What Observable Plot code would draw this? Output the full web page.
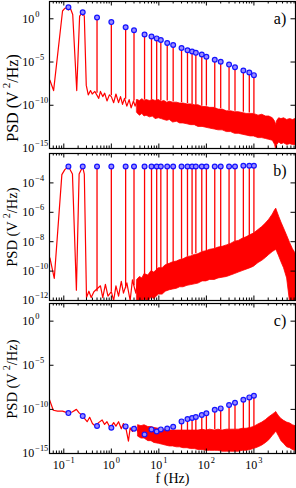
<!DOCTYPE html>
<html><head><meta charset="utf-8">
<script src="https://cdn.jsdelivr.net/npm/d3@7"></script>
<script src="https://cdn.jsdelivr.net/npm/@observablehq/plot@0.6"></script>
<style>
html,body{margin:0;padding:0;background:#fff;}
#chart{position:relative;width:296px;height:488px;}
</style></head><body><div id="chart"></div>
<script>
// ---------- data (PSD values stored as log10 exponents) ----------
const xDomain = [0.05, 7500];
const xMajor = [0.1, 1, 10, 100, 1000];
const minorMult = [2, 3, 4, 5, 6, 7, 8, 9];
const decades = [0.01, 0.1, 1, 10, 100, 1000];

const peakF = [0.125,0.25,0.5,1,2,3,5,7,9,11,15,20,30,40,50,60,80,100,150,200,300,400,600,800,1000];

// panel a)
const yTicksA = [0, -5, -10, -15];
const peakA = [1.33,0.76,0.15,-0.38,-0.98,-1.33,-1.82,-2.05,-2.27,-2.46,-2.80,-3.03,-3.37,-3.64,-3.79,-3.94,-4.13,-4.39,-4.73,-4.96,-5.30,-5.61,-5.98,-6.21,-6.52];
const baseA = [0.9,0.3,-8.6,-8.9,-9.3,-9.5,-9.4,-9.4,-9.5,-9.5,-9.5,-9.6,-9.7,-9.8,-9.9,-10.0,-10.1,-10.1,-10.3,-10.4,-10.6,-10.7,-10.8,-10.9,-11.0];
const lineAf = [0.051,0.061,0.094,0.105,0.125,0.14,0.154,0.187,0.215,0.249,0.27,0.297,0.327,0.365,0.396,0.45,0.543,0.59,0.66,0.725,0.81,0.91,1.0,1.12,1.25,1.42,1.56,1.72,1.89,2.12,2.37,2.61,2.92,3.16,3.5];
const lineAv = [-7.1,-8.3,0.9,1.2,1.33,1.1,0.5,-8.3,0.3,0.76,0.3,-7.7,-8.8,-8.3,-8.7,-8.4,-9.2,-8.4,-9.0,-8.6,-9.5,-8.8,-9.0,-9.7,-8.7,-9.7,-9.0,-9.9,-9.2,-10.1,-9.35,-10.3,-9.5,-10.1,-9.4];
const bandAf  = [3.5,4,4.5,5,5.5,6.5,7.5,8.5,10,11.5,13,15,17,20,24,28,33,40,48,57,68,83,100,120,150,180,220,270,330,400,480,580,700,850,1000,1250,1500,1800,2100,2500,2800,2950,3100,3400,3800,4300,5000,5800,6600,7500];
const bandAlo = [-10.9,-11.2,-11.0,-11.3,-11.2,-11.4,-11.3,-11.6,-11.5,-11.6,-11.7,-11.8,-11.7,-12.0,-11.9,-12.1,-12.1,-12.2,-12.3,-12.3,-12.5,-12.5,-12.6,-12.7,-12.8,-12.9,-12.9,-13.1,-13.1,-13.3,-13.3,-13.4,-13.5,-13.6,-13.6,-13.8,-13.8,-13.9,-14.0,-14.1,-14.6,-15.2,-14.6,-14.3,-14.5,-14.4,-14.6,-14.5,-14.6,-14.6];
const bandAhi = [-9.4,-9.5,-9.3,-9.5,-9.4,-9.5,-9.4,-9.5,-9.4,-9.6,-9.5,-9.7,-9.6,-9.7,-9.7,-9.8,-9.8,-9.9,-9.9,-10.0,-10.0,-10.2,-10.2,-10.3,-10.3,-10.5,-10.5,-10.7,-10.7,-10.8,-10.8,-10.9,-11.0,-11.0,-11.0,-11.2,-11.1,-11.3,-11.3,-11.5,-11.9,-12.3,-11.8,-11.5,-11.6,-11.5,-11.7,-11.6,-11.7,-11.6];

// panel b)
const yTicksB = [-4, -6, -8, -10, -12];
const peakB = [-2.88,-2.88,-2.88,-2.88,-2.88,-2.88,-2.88,-2.88,-2.88,-2.88,-2.88,-2.88,-2.88,-2.88,-2.88,-2.88,-2.88,-2.88,-2.88,-2.88,-2.88,-2.88,-2.83,-2.83,-2.83];
const baseB = [-3.0,-3.0,-11.4,-11.4,-11.2,-11.0,-10.3,-10.1,-10.0,-9.8,-9.6,-9.4,-9.2,-9.0,-8.9,-8.8,-8.7,-8.7,-8.5,-8.4,-8.2,-8.0,-7.9,-7.7,-7.6];
const lineBf = [0.051,0.063,0.091,0.105,0.125,0.152,0.184,0.21,0.249,0.27,0.30,0.337,0.377,0.43,0.59,0.66,0.75,0.85,1.0,1.12,1.25,1.42,1.62,1.8,2.12,2.49,2.78,3.27,3.6];
const lineBv = [-9.1,-10.5,-3.44,-3.1,-2.88,-3.4,-11.3,-3.4,-2.9,-3.4,-11.8,-11.37,-11.8,-11.4,-11.0,-11.8,-10.9,-11.7,-11.4,-12.0,-11.0,-11.7,-10.7,-11.5,-10.8,-12.0,-10.6,-11.5,-10.6];
const bandBf  = [3.5,4,4.5,5,6,7,8,10,12,14,17,20,24,28,33,40,48,57,68,83,100,120,150,180,220,270,330,400,480,580,700,850,1000,1250,1500,1800,2100,2500,2800,2950,3100,3400,3800,4300,5000,5800,6600,7500];
const bandBlo = [-12.2,-12.0,-12.2,-11.9,-12.1,-11.8,-11.9,-11.6,-11.6,-11.4,-11.3,-11.25,-11.2,-11.1,-11.1,-11.0,-10.95,-10.9,-10.85,-10.7,-10.7,-10.6,-10.6,-10.5,-10.45,-10.4,-10.3,-10.2,-10.1,-10.0,-9.9,-9.8,-9.7,-9.45,-9.3,-9.1,-8.9,-8.7,-8.6,-8.55,-8.7,-9.0,-9.4,-9.8,-10.5,-12.2,-12.2,-12.2];
const bandBhi = [-10.6,-10.4,-10.5,-10.2,-10.3,-10.0,-10.1,-9.8,-9.8,-9.6,-9.5,-9.4,-9.35,-9.25,-9.2,-9.05,-9.0,-8.9,-8.85,-8.7,-8.65,-8.55,-8.5,-8.4,-8.35,-8.25,-8.15,-8.0,-7.95,-7.8,-7.7,-7.55,-7.45,-7.2,-7.0,-6.75,-6.5,-6.15,-5.85,-5.75,-5.95,-6.3,-6.7,-7.1,-7.6,-8.1,-8.5,-8.8];

// panel c)
const yTicksC = [0, -5, -10, -15];
const peakC = [-10.42,-10.76,-11.89,-12.08,-11.93,-12.20,-12.84,-12.27,-12.5,-12.27,-12.16,-11.97,-11.36,-11.10,-10.98,-10.87,-10.64,-10.45,-10.04,-9.89,-9.51,-9.24,-8.90,-8.64,-8.45];
const baseC = [-10.42,-10.76,-11.89,-12.08,-11.93,-12.20,-12.84,-12.27,-12.5,-12.27,-12.16,-11.97,-12.4,-12.4,-12.4,-12.4,-12.4,-12.4,-12.3,-12.3,-12.3,-12.3,-12.3,-12.2,-12.2];
const lineCf = [0.05,0.06,0.074,0.094,0.12,0.15,0.184,0.21,0.245,0.28,0.31,0.35,0.40,0.46,0.54,0.64,0.72,0.81,0.95,1.12,1.25,1.42,1.62,1.8,2.02,2.29,2.49,2.78,3.16,3.7];
const lineCv = [-8.9,-10.1,-10.2,-10.2,-10.4,-10.3,-10.0,-10.4,-10.7,-11.1,-11.4,-10.9,-11.6,-11.9,-11.5,-11.2,-11.7,-11.4,-12.1,-11.5,-11.9,-11.4,-12.2,-11.6,-12.1,-13.6,-12.1,-12.5,-11.9,-12.6];
const bandCf  = [3.7,4.3,5,6,7,8,10,12,14,17,20,24,28,33,40,48,57,68,83,100,120,150,180,220,270,330,400,480,580,700,850,1000,1250,1500,1800,2100,2500,2800,2950,3100,3400,3800,4300,5000,5800,6600,7500];
const bandClo = [-13.1,-13.3,-13.3,-13.6,-13.6,-13.8,-13.9,-14.0,-14.1,-14.2,-14.2,-14.3,-14.3,-14.4,-14.4,-14.5,-14.5,-14.6,-14.6,-14.7,-14.7,-14.7,-14.7,-14.8,-14.8,-14.8,-14.8,-14.8,-14.7,-14.7,-14.6,-14.5,-14.3,-14.1,-13.8,-13.5,-13.0,-12.7,-12.5,-12.7,-13.1,-13.6,-13.9,-14.3,-14.4,-14.6,-14.7];
const bandChi = [-11.8,-11.9,-11.8,-12.0,-12.0,-12.1,-12.2,-12.3,-12.3,-12.4,-12.4,-12.4,-12.4,-12.4,-12.4,-12.4,-12.4,-12.4,-12.3,-12.4,-12.3,-12.4,-12.3,-12.4,-12.3,-12.3,-12.3,-12.3,-12.2,-12.2,-12.1,-12.0,-11.7,-11.5,-11.2,-10.9,-10.6,-10.4,-10.3,-10.5,-10.8,-11.1,-11.3,-11.5,-11.6,-11.8,-11.9];

const panelTags = ["a)", "b)", "c)"];
const yLabel = "PSD (V^2/Hz)";
const xLabel = "f (Hz)";

// ---------- helpers ----------
const FONT = '"Liberation Serif","Times New Roman",Times,serif';
const xMinor = decades.flatMap(d => minorMult.map(m => d * m)).filter(v => v > xDomain[0] && v < xDomain[1]);
const P = v => Math.pow(10, v);
const pts = (f, v) => f.map((x, i) => ({f: x, v: P(v[i])}));
const bandPts = (f, lo, hi) => f.map((x, i) => ({f: x, lo: P(lo[i]), hi: P(hi[i])}));
const peakPts = (v, b) => peakF.map((x, i) => ({f: x, v: P(v[i]), base: P(b[i])}));

function panel(cfg) {
  const {top, height, mt, mb, yDomain, yTickExp, line, band, peaks, tag, labelSize, showX} = cfg;
  const W = 296, ml = 49, mr = 1;
  const ih = height - mt - mb, iw = W - ml - mr;
  const marks = [
    Plot.areaY(band, {x: "f", y1: "lo", y2: "hi", fill: "#ff0000", stroke: "#ff0000", strokeWidth: 0.8, clip: true}),
    Plot.line(line, {x: "f", y: "v", stroke: "#ff0000", strokeWidth: 1.2, clip: true}),
    Plot.ruleX(peaks, {x: "f", y1: "base", y2: "v", stroke: "#ff0000", strokeWidth: 1.3, clip: true}),
    Plot.dot(peaks, {x: "f", y: "v", r: 2.4, stroke: "#1414ff", fill: "#9a8cff", strokeWidth: 1.2}),
    Plot.tickX(xMajor, {x: d => d, insetTop: ih - 4.5, stroke: "#000"}),
    Plot.tickX(xMinor, {x: d => d, insetTop: ih - 2.5, stroke: "#000"}),
    Plot.tickX(xMajor, {x: d => d, insetBottom: ih - 4.5, stroke: "#000"}),
    Plot.tickX(xMinor, {x: d => d, insetBottom: ih - 2.5, stroke: "#000"}),
    Plot.tickY(yTickExp, {y: e => P(e), insetRight: iw - 4.5, stroke: "#000"}),
    Plot.tickY(yTickExp, {y: e => P(e), insetLeft: iw - 4.5, stroke: "#000"}),
    Plot.frame({stroke: "#000", strokeWidth: 1.2}),
    Plot.text(yTickExp, {y: e => P(e), text: e => "10^" + e, frameAnchor: "left", textAnchor: "start", lineAnchor: "middle", dx: -27.3, fontSize: 12, fill: "#000"}),
    Plot.text([tag], {text: d => d, frameAnchor: "top-right", textAnchor: "middle", lineAnchor: "middle", dx: -15.5, dy: 17.5, fontSize: 16, fill: "#000"}),
    Plot.text([yLabel], {text: d => d, frameAnchor: "left", textAnchor: "middle", lineAnchor: "middle", rotate: -90, dx: -37, fontSize: labelSize, fill: "#000"})
  ];
  if (showX) {
    marks.push(Plot.text(xMajor, {x: d => d, text: d => "10^" + Math.round(Math.log10(d)), frameAnchor: "bottom", textAnchor: "middle", lineAnchor: "middle", dy: 12, fontSize: 12, fill: "#000"}));
    marks.push(Plot.text([xLabel], {text: d => d, frameAnchor: "bottom", textAnchor: "middle", lineAnchor: "middle", dy: 25, fontSize: 14, fill: "#000"}));
  }
  const svg = Plot.plot({
    width: W, height, marginLeft: ml, marginRight: mr, marginTop: mt, marginBottom: mb,
    x: {type: "log", domain: xDomain, axis: null},
    y: {type: "log", domain: yDomain, axis: null},
    style: {fontFamily: FONT, background: "transparent", overflow: "visible", color: "#000"},
    marks
  });
  svg.style.position = "absolute";
  svg.style.left = "0px";
  svg.style.top = top + "px";
  return svg;
}

function supify(svg) {
  const ns = "http://www.w3.org/2000/svg";
  svg.querySelectorAll("text").forEach(t => {
    const s = t.textContent;
    const m = s.match(/^(.*)\^(-?\d+)(.*)$/);
    if (!m) return;
    const fs = parseFloat(getComputedStyle(t).fontSize) || 12;
    while (t.firstChild) t.removeChild(t.firstChild);
    const a = document.createElementNS(ns, "tspan");
    a.textContent = m[1];
    const b = document.createElementNS(ns, "tspan");
    b.textContent = m[2].replace("-", "\u2212");
    b.setAttribute("font-size", (fs * 0.7).toFixed(1));
    b.setAttribute("dy", (-fs * 0.5).toFixed(1));
    b.setAttribute("dx", m[3] ? (fs * 0.2).toFixed(1) : (fs * 0.08).toFixed(1));
    t.appendChild(a); t.appendChild(b);
    if (m[3]) {
      const c = document.createElementNS(ns, "tspan");
      c.textContent = m[3];
      c.setAttribute("dy", (fs * 0.5).toFixed(1));
      t.appendChild(c);
    }
  });
}

// centre the rotated y label at a page position
function placeYLabel(svg, cy) {
  const t = [...svg.querySelectorAll("text")].find(e => e.textContent.startsWith("PSD"));
  if (!t) return;
  const r = t.getBoundingClientRect();
  const c = document.getElementById("chart").getBoundingClientRect();
  const now = r.top + r.height / 2 - c.top;
  t.setAttribute("transform", `translate(0,${(cy - now).toFixed(1)}) ` + (t.getAttribute("transform") || ""));
}

const chart = document.getElementById("chart");
const cfgs = [
  {top: 0, height: 150, mt: 1, mb: 2, yDomain: [1e-15, 1e2], yTickExp: yTicksA,
   line: pts(lineAf, lineAv), band: bandPts(bandAf, bandAlo, bandAhi), peaks: peakPts(peakA, baseA),
   tag: panelTags[0], labelSize: 16, labelY: 98, showX: false},
  {top: 150, height: 152, mt: 3, mb: 2, yDomain: [1e-12, 1e-2], yTickExp: yTicksB,
   line: pts(lineBf, lineBv), band: bandPts(bandBf, bandBlo, bandBhi), peaks: peakPts(peakB, baseB),
   tag: panelTags[1], labelSize: 14.5, labelY: 227, showX: false},
  {top: 300, height: 188, mt: 3, mb: 35, yDomain: [1e-15, 1e2], yTickExp: yTicksC,
   line: pts(lineCf, lineCv), band: bandPts(bandCf, bandClo, bandChi), peaks: peakPts(peakC, baseC),
   tag: panelTags[2], labelSize: 14.5, labelY: 379, showX: true}
];
cfgs.forEach(cfg => {
  const s = panel(cfg);
  chart.appendChild(s);
  supify(s);
  placeYLabel(s, cfg.labelY);
});
</script>
</body></html>
